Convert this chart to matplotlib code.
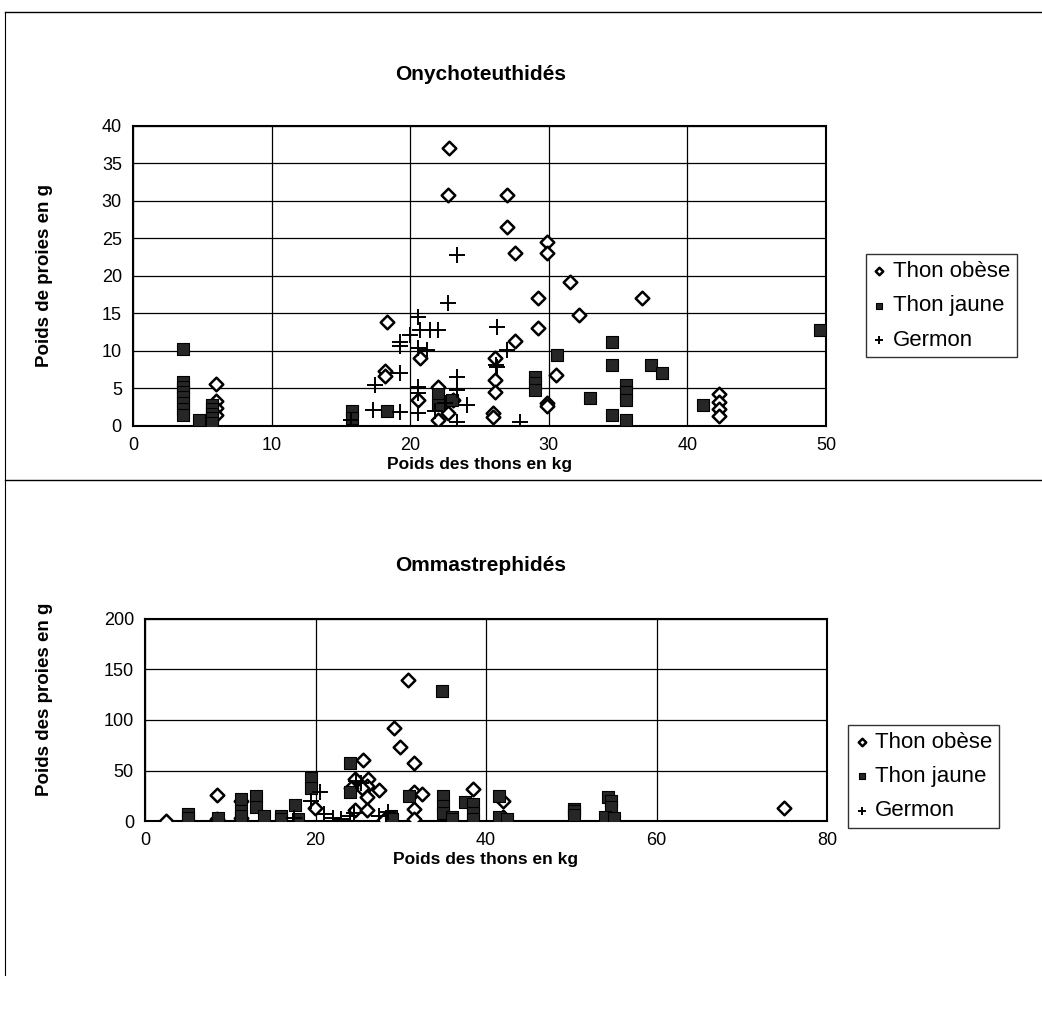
import matplotlib
matplotlib.use("Agg")
import matplotlib.pyplot as plt
from matplotlib.lines import Line2D

plt.rcParams['font.family'] = ['Liberation Sans', 'DejaVu Sans']

# --- Onychoteuthidés : poids des thons (kg) / poids des proies (g) ---
ony_obese_x = [6.0, 6.0, 6.0, 6.0, 18.3, 18.2, 18.2, 20.7, 20.6, 22.0, 22.0, 22.7, 23.1,
               22.8, 22.7, 27.0, 27.0, 27.6, 29.9, 29.9, 29.2, 29.2, 31.5, 32.2, 36.7,
               27.6, 26.1, 26.1, 26.1, 26.0, 26.0, 29.9, 29.9, 30.5,
               42.3, 42.3, 42.3, 42.3]
ony_obese_y = [5.6, 3.3, 2.4, 1.5, 13.9, 7.3, 6.6, 9.1, 3.5, 5.2, 0.8, 1.7, 3.5,
               37.0, 30.8, 30.8, 26.5, 23.0, 24.5, 23.0, 17.0, 13.0, 19.2, 14.8, 17.0,
               11.3, 9.1, 6.1, 4.5, 1.7, 1.2, 3.0, 2.6, 6.8,
               4.2, 3.2, 2.2, 1.3]

ony_jaune_x = [3.6, 3.6, 3.6, 3.6, 3.6, 3.6, 3.6, 3.6, 4.8, 5.7, 5.7, 5.7, 5.7, 5.7,
               15.8, 15.8, 18.3, 22.0, 22.0, 23.0, 29.0, 29.0, 29.0, 30.6, 33.0,
               34.6, 34.6, 34.6, 35.6, 35.6, 35.6, 35.6, 37.4, 38.2, 41.1, 49.6]
ony_jaune_y = [10.3, 5.8, 5.2, 4.5, 3.8, 3.0, 2.3, 1.5, 0.8, 2.8, 2.2, 1.6, 1.0, 0.4,
               2.0, 1.0, 2.0, 4.2, 2.8, 3.5, 6.5, 5.7, 4.8, 9.5, 3.7,
               11.2, 8.1, 1.5, 5.5, 4.5, 3.5, 0.8, 8.1, 7.1, 2.8, 12.8]

ony_germon_x = [23.4, 22.7, 20.6, 20.0, 20.7, 21.4, 22.0, 19.3, 19.3, 20.6, 21.2, 19.3,
                17.5, 20.6, 20.6, 23.4, 23.4, 24.1, 20.6, 19.3, 17.3, 15.7, 23.4,
                26.3, 26.3, 27.0, 26.2, 27.9, 22.5, 21.8]
ony_germon_y = [22.8, 16.4, 14.5, 12.1, 12.8, 12.8, 12.8, 11.2, 10.7, 10.4, 10.1, 7.1,
                5.5, 5.2, 4.4, 6.5, 4.8, 2.8, 1.7, 1.9, 2.1, 0.8, 0.5,
                13.2, 7.9, 10.1, 8.1, 0.5, 3.0, 2.0]

# --- Ommastrephidés ---
omm_obese_x = [2.5, 8.4, 8.4, 11.2, 19.9, 30.9, 29.2, 29.9, 31.6, 25.6, 24.6, 26.2,
               26.0, 25.4, 24.2, 27.5, 26.0, 31.5, 32.5, 38.5, 42.0, 42.0, 75.0,
               24.6, 26.0, 31.5, 31.5, 28.0, 11.2]
omm_obese_y = [0.5, 25.7, 2.0, 20.0, 12.9, 139.6, 92.0, 73.0, 57.0, 60.0, 42.0, 42.0,
               35.0, 33.0, 33.0, 31.0, 24.0, 29.0, 27.0, 32.0, 20.0, 4.0, 13.0,
               11.0, 11.0, 12.0, 2.0, 1.0, 3.0]

omm_jaune_x = [5.0, 5.0, 8.5, 11.2, 11.2, 11.2, 13.0, 13.0, 14.0, 16.0, 16.0, 17.6,
               18.0, 19.5, 19.5, 24.0, 24.0, 28.8, 29.0, 31.0, 34.8, 35.0, 35.0, 35.0,
               36.0, 36.0, 37.5, 38.5, 38.5, 38.5, 41.5, 41.5, 42.5, 50.3, 50.3, 50.3,
               54.3, 54.7, 54.7, 54.0, 55.0]
omm_jaune_y = [7.0, 3.0, 3.0, 22.0, 10.0, 5.0, 25.0, 14.0, 5.0, 5.0, 2.0, 16.0,
               2.0, 43.0, 33.0, 57.0, 29.0, 5.0, 2.0, 25.0, 129.0, 25.0, 15.0, 8.0,
               4.0, 2.0, 19.0, 17.0, 8.0, 2.0, 25.0, 4.0, 2.0, 12.0, 10.0, 6.0,
               24.0, 20.0, 14.0, 4.0, 3.0]

omm_germon_x = [19.5, 20.5, 21.0, 22.0, 23.0, 24.0, 24.5, 24.8, 25.3, 27.5, 28.5, 17.5]
omm_germon_y = [20.0, 29.0, 7.0, 3.0, 2.0, 5.0, 8.0, 40.0, 38.0, 5.0, 9.0, 3.0]

labels = ['Thon obèse', 'Thon jaune', 'Germon']


def draw_panel(ax, obese, jaune, germon, xmax, xstep, ymax, ystep, ylabel, ylabel_xy):
    ax.scatter(obese[0], obese[1], marker='D', s=48, facecolors='white',
               edgecolors='black', linewidths=1.8, zorder=3, label=labels[0])
    ax.scatter(jaune[0], jaune[1], marker='s', s=80, facecolors='#262626',
               edgecolors='black', linewidths=0.8, zorder=3, label=labels[1])
    ax.scatter(germon[0], germon[1], marker='+', s=120, color='black',
               linewidths=1.4, zorder=3, label=labels[2])
    ax.set_xlim(0, xmax)
    ax.set_ylim(0, ymax)
    ax.set_xticks(range(0, xmax + 1, xstep))
    ax.set_yticks(range(0, ymax + 1, ystep))
    ax.grid(True, color='black', linewidth=0.9)
    ax.set_axisbelow(True)
    for sp in ax.spines.values():
        sp.set_linewidth(1.5)
        sp.set_color('black')
    ax.tick_params(labelsize=13, length=0, pad=8)
    ax.set_xlabel('Poids des thons en kg', fontsize=12.5, fontweight='bold', labelpad=2)
    ax.set_ylabel(ylabel, fontsize=13.5, fontweight='bold')
    ax.yaxis.set_label_coords(*ylabel_xy)


def add_legend(ax, anchor):
    leg = ax.legend(loc='center left', bbox_to_anchor=anchor, fontsize=16,
                    frameon=True, fancybox=False, edgecolor='black', handlelength=0.6,
                    handletextpad=0.3, borderpad=0.3, labelspacing=0.6,
                    markerscale=0.55, borderaxespad=0)
    leg.get_frame().set_linewidth(1.0)
    return leg


fig = plt.figure(figsize=(10.42, 10.26), dpi=100)

ax1 = fig.add_axes([0.1276, 0.5848, 0.665, 0.2924])
draw_panel(ax1, (ony_obese_x, ony_obese_y), (ony_jaune_x, ony_jaune_y),
           (ony_germon_x, ony_germon_y), 50, 10, 40, 5, 'Poids de proies en g',
           (-0.115, 0.50))
fig.text(0.461, 0.927, 'Onychoteuthidés', ha='center', va='center',
         fontsize=15, fontweight='bold')
add_legend(ax1, (1.058, 0.40))

ax2 = fig.add_axes([0.1392, 0.1998, 0.6545, 0.1969])
draw_panel(ax2, (omm_obese_x, omm_obese_y), (omm_jaune_x, omm_jaune_y),
           (omm_germon_x, omm_germon_y), 80, 20, 200, 50, 'Poids des proies en g',
           (-0.135, 0.60))
fig.text(0.461, 0.449, 'Ommastrephidés', ha='center', va='center',
         fontsize=15, fontweight='bold')
add_legend(ax2, (1.031, 0.22))

# page frame lines of the scanned figure
fig.add_artist(Line2D([0.005, 1.0], [0.988, 0.988], color='black', linewidth=1.0))
fig.add_artist(Line2D([0.005, 1.0], [0.532, 0.532], color='black', linewidth=1.0))
fig.add_artist(Line2D([0.005, 0.005], [0.05, 0.988], color='black', linewidth=0.8))

fig.savefig('out.png', dpi=100, facecolor='white')
